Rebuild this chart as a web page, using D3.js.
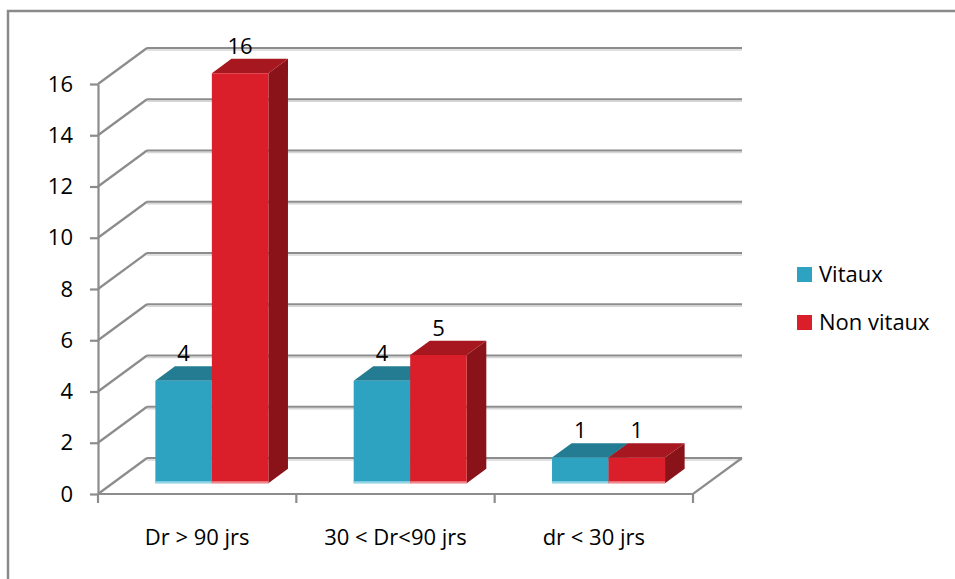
<!DOCTYPE html>
<html>
<head>
<meta charset="utf-8">
<script src="https://cdn.jsdelivr.net/npm/d3@7"></script>
<style>
  html, body { margin: 0; padding: 0; background: #fff; }
  svg { display: block; font-family: "Open Sans", "DejaVu Sans", sans-serif; }
</style>
</head>
<body>
<svg id="chart" width="955" height="579"></svg>
<script>
// Durée de la douleur, dents vitales vs non vitales
const categories = ["Dr > 90 jrs", "30 < Dr<90 jrs", "dr < 30 jrs"];
const seriesNames = ["Vitaux", "Non vitaux"];
const vitaux = [4, 4, 1];
const nonVitaux = [16, 5, 1];
const yTicks = [0, 2, 4, 6, 8, 10, 12, 14, 16];

const palette = {
  "Vitaux":     { front: "#2ea3c1", top: "#237c91", side: "#1e6a7c", base: "#95d6e6" },
  "Non vitaux": { front: "#db1f2a", top: "#a6171f", side: "#8a131a", base: "#f08a90" }
};

const svg = d3.select("#chart");

// Plot frame (front plane) and the depth vector of the 3-D box
const plotLeft = 98, plotRight = 693, plotBottom = 494, plotTop = 84;
const depth = { dx: 49, dy: -36 };
const zFront = 0.3, zBack = 0.7;   // bars sit in the middle of the depth

const y = d3.scaleLinear().domain([0, 16]).range([plotBottom, plotTop]);
const x0 = d3.scaleBand().domain(categories).range([plotLeft, plotRight]).padding(0);
const x1 = d3.scaleBand().domain(seriesNames).range([0, x0.bandwidth()])
  .paddingInner(0).paddingOuter(0.755);

// project a point (front-plane x, value, depth fraction z)
const P = (x, v, z) => [x + z * depth.dx, y(v) + z * depth.dy];

// Outer chart border
svg.append("rect")
  .attr("x", 8).attr("y", 11).attr("width", 970).attr("height", 600)
  .attr("fill", "none").attr("stroke", "#8a8a8a").attr("stroke-width", 2.5);

// Gridlines on the back wall and left side wall
const grid = svg.append("g");
const gridColor = "#8c8c8c", gridShade = "#d6d6d6";
yTicks.forEach(t => {
  const [bx0, by0] = P(plotLeft, t, 1);
  const [bx1, by1] = P(plotRight, t, 1);
  const [fx, fy] = P(plotLeft, t, 0);
  grid.append("line").attr("x1", bx0).attr("x2", bx1).attr("y1", by0 + 2).attr("y2", by1 + 2)
    .attr("stroke", gridShade).attr("stroke-width", 1.5);
  grid.append("line").attr("x1", bx0).attr("x2", bx1).attr("y1", by0).attr("y2", by1)
    .attr("stroke", gridColor).attr("stroke-width", 2.2);
  grid.append("line").attr("x1", fx).attr("y1", fy).attr("x2", bx0).attr("y2", by0)
    .attr("stroke", gridColor).attr("stroke-width", 2.2);
});

// Floor: front edge and right edge
const floor = svg.append("g").attr("stroke", gridColor).attr("stroke-width", 2.2).attr("fill", "none");
floor.append("path").attr("d", d3.line()([P(plotLeft, 0, 0), P(plotRight, 0, 0), P(plotRight, 0, 1)]));

// Category boundary ticks
const bounds = categories.map(c => x0(c)).concat([plotRight]);
floor.selectAll("line.ctick").data(bounds).join("line")
  .attr("class", "ctick")
  .attr("x1", d => d).attr("x2", d => d)
  .attr("y1", plotBottom).attr("y2", plotBottom + 9);

// Value axis
const yAxis = d3.axisLeft(y).tickValues(yTicks).tickSize(8).tickSizeOuter(0).tickPadding(17);
const yg = svg.append("g").attr("transform", `translate(${plotLeft},0)`).call(yAxis);
yg.select(".domain").attr("stroke", gridColor).attr("stroke-width", 2.2);
yg.selectAll(".tick line").attr("stroke", gridColor).attr("stroke-width", 2.2);
yg.selectAll(".tick text").attr("fill", "#000").style("font-size", "22px")
  .style("font-family", "'Open Sans', sans-serif");

// Category axis labels
const xAxis = d3.axisBottom(x0).tickSize(0).tickPadding(35);
const xg = svg.append("g").attr("transform", `translate(0,${plotBottom})`).call(xAxis);
xg.select(".domain").remove();
xg.selectAll(".tick text").attr("fill", "#000").style("font-size", "22px")
  .style("font-family", "'Open Sans', sans-serif");

// 3-D bars
const rows = categories.map((c, i) => ({
  cat: c,
  values: [{ s: "Vitaux", v: vitaux[i] }, { s: "Non vitaux", v: nonVitaux[i] }]
}));
const poly = pts => "M" + pts.map(p => p.join(",")).join("L") + "Z";

const bars = svg.append("g");
rows.forEach(r => {
  r.values.forEach(d => {
    const xa = x0(r.cat) + x1(d.s);
    const xb = xa + x1.bandwidth();
    const col = palette[d.s];
    const g = bars.append("g");
    // right side face
    g.append("path").attr("fill", col.side)
      .attr("d", poly([P(xb, 0, zFront), P(xb, d.v, zFront), P(xb, d.v, zBack), P(xb, 0, zBack)]));
    // top face
    g.append("path").attr("fill", col.top)
      .attr("d", poly([P(xa, d.v, zFront), P(xb, d.v, zFront), P(xb, d.v, zBack), P(xa, d.v, zBack)]));
    // front face
    g.append("path").attr("fill", col.front)
      .attr("d", poly([P(xa, 0, zFront), P(xb, 0, zFront), P(xb, d.v, zFront), P(xa, d.v, zFront)]));
    // light lower rim of the front face
    const [ra, ry] = P(xa, 0, zFront);
    const [rb] = P(xb, 0, zFront);
    g.append("line").attr("x1", ra).attr("x2", rb).attr("y1", ry - 1).attr("y2", ry - 1)
      .attr("stroke", col.base).attr("stroke-width", 2);
    // value label
    const [lx] = P((xa + xb) / 2, d.v, zFront);
    const [, ly] = P(xa, d.v, zBack);
    g.append("text").attr("x", lx).attr("y", ly - 5)
      .attr("text-anchor", "middle").attr("fill", "#000")
      .style("font-size", "22px").text(d.v);
  });
});

// Legend
const legend = svg.append("g").attr("transform", "translate(797,267)");
const li = legend.selectAll("g").data(seriesNames).join("g")
  .attr("transform", (d, i) => `translate(0,${i * 48})`);
li.append("rect").attr("width", 15).attr("height", 15).attr("fill", d => palette[d].front);
li.append("text").attr("x", 22).attr("y", 15).attr("fill", "#000")
  .style("font-size", "22px").text(d => d);
</script>
</body>
</html>
